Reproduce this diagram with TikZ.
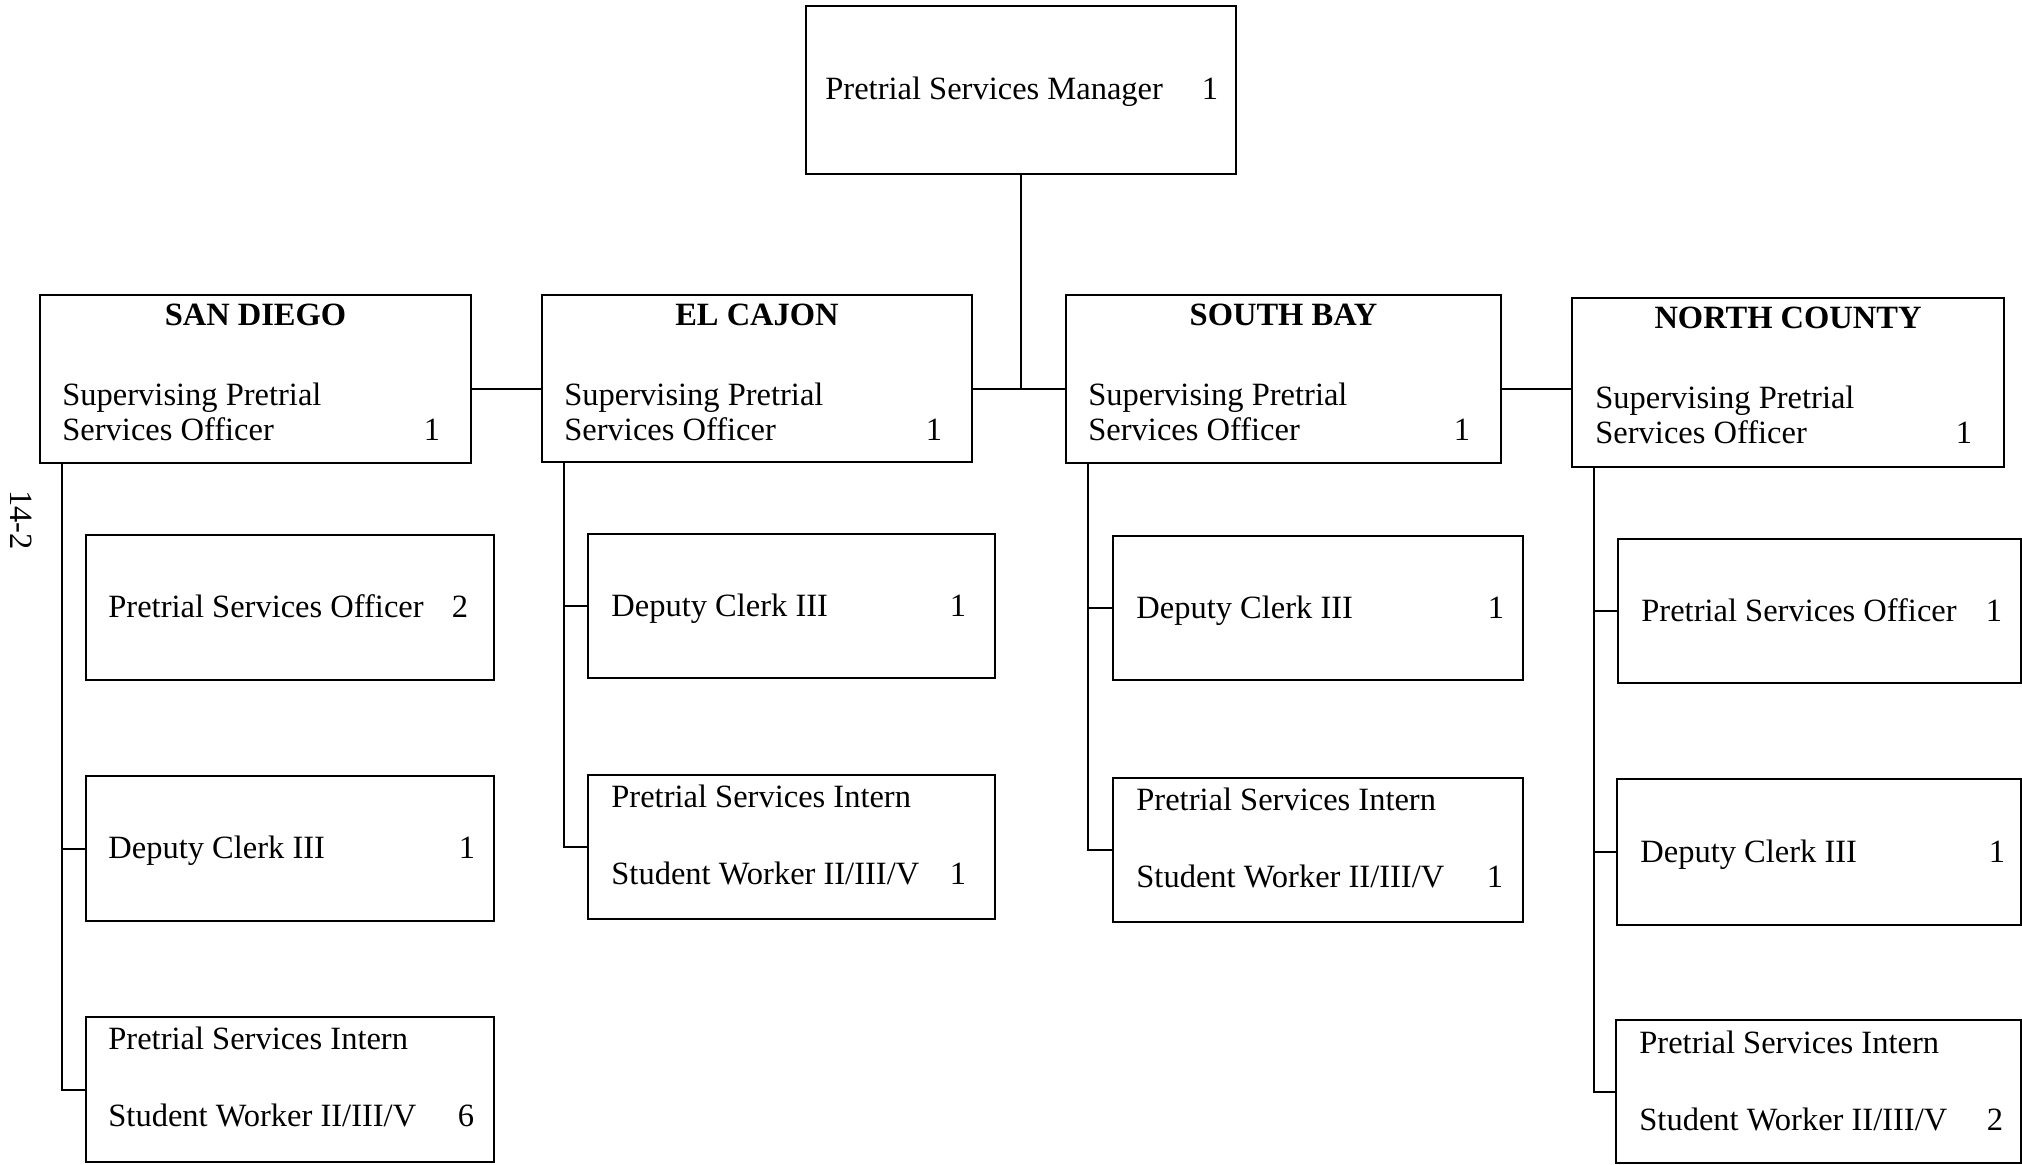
\documentclass[tikz,border=0pt]{standalone}
\usepackage{fontspec}
\setmainfont{Liberation Serif}
\usetikzlibrary{fit,calc}
\begin{document}
\begin{tikzpicture}[x=0.5pt,y=-0.5pt,
  box/.style={draw, line width=1.3pt, inner sep=0pt},
  lbl/.style={inner sep=0pt, anchor=base west, font=\fontsize{16.25}{19}\selectfont},
  num/.style={inner sep=0pt, anchor=base, font=\fontsize{16.25}{19}\selectfont},
  head/.style={inner sep=0pt, anchor=base, font=\fontsize{16.25}{19}\selectfont\bfseries},
  link/.style={line width=1pt}]
\useasboundingbox (0,0) rectangle (2022,1165);

% ---- top: manager ----
\node[box, fit={(806,6) (1236,174)}] (mgr) {};
\node[lbl] (mgr-t) at (825,100) {Pretrial Services Manager};
\node[num] (mgr-n) at (1210,100) {1};

% ---- second row: the four offices ----
\node[box, fit={(40,295) (471,463)}] (sd) {};
\node[box, fit={(542,295) (972,462)}] (ec) {};
\node[box, fit={(1066,295) (1501,463)}] (sb) {};
\node[box, fit={(1572,298) (2004,467)}] (nc) {};

\node[head] (sd-h) at (255.5,326) {SAN DIEGO};
\node[head] (ec-h) at (757,326) {EL CAJON};
\node[head] (sb-h) at (1283.5,326) {SOUTH BAY};
\node[head] (nc-h) at (1788,329) {NORTH COUNTY};

\node[lbl] (sd-a) at (62,406) {Supervising Pretrial};
\node[lbl] (sd-b) at (62,441) {Services Officer};
\node[num] (sd-n) at (432,441) {1};
\node[lbl] (ec-a) at (564,406) {Supervising Pretrial};
\node[lbl] (ec-b) at (564,441) {Services Officer};
\node[num] (ec-n) at (934,441) {1};
\node[lbl] (sb-a) at (1088,406) {Supervising Pretrial};
\node[lbl] (sb-b) at (1088,441) {Services Officer};
\node[num] (sb-n) at (1462,441) {1};
\node[lbl] (nc-a) at (1595,409) {Supervising Pretrial};
\node[lbl] (nc-b) at (1595,444) {Services Officer};
\node[num] (nc-n) at (1964,444) {1};

% ---- third row: staff under each office ----
% San Diego
\node[box, fit={(86,535) (494,680)}] (sd1) {};
\node[box, fit={(86,776) (494,921)}] (sd2) {};
\node[box, fit={(86,1017) (494,1162)}] (sd3) {};
\node[lbl] (sd1-t) at (108,617) {Pretrial Services Officer};
\node[num] (sd1-n) at (460,617) {2};
\node[lbl] (sd2-t) at (108,858) {Deputy Clerk III};
\node[num] (sd2-n) at (467,858) {1};
\node[lbl] (sd3-a) at (108,1049) {Pretrial Services Intern};
\node[lbl] (sd3-b) at (108,1126) {Student Worker II/III/V};
\node[num] (sd3-n) at (466,1126) {6};

% El Cajon
\node[box, fit={(588,534) (995,678)}] (ec1) {};
\node[box, fit={(588,775) (995,919)}] (ec2) {};
\node[lbl] (ec1-t) at (611,616) {Deputy Clerk III};
\node[num] (ec1-n) at (958,616) {1};
\node[lbl] (ec2-a) at (611,807) {Pretrial Services Intern};
\node[lbl] (ec2-b) at (611,884) {Student Worker II/III/V};
\node[num] (ec2-n) at (958,884) {1};

% South Bay
\node[box, fit={(1113,536) (1523,680)}] (sb1) {};
\node[box, fit={(1113,778) (1523,922)}] (sb2) {};
\node[lbl] (sb1-t) at (1136,618) {Deputy Clerk III};
\node[num] (sb1-n) at (1496,618) {1};
\node[lbl] (sb2-a) at (1136,810) {Pretrial Services Intern};
\node[lbl] (sb2-b) at (1136,887) {Student Worker II/III/V};
\node[num] (sb2-n) at (1495,887) {1};

% North County
\node[box, fit={(1618,539) (2021,683)}] (nc1) {};
\node[box, fit={(1617,779) (2021,925)}] (nc2) {};
\node[box, fit={(1616,1020) (2021,1163)}] (nc3) {};
\node[lbl] (nc1-t) at (1641,621) {Pretrial Services Officer};
\node[num] (nc1-n) at (1994,621) {1};
\node[lbl] (nc2-t) at (1640,862) {Deputy Clerk III};
\node[num] (nc2-n) at (1997,862) {1};
\node[lbl] (nc3-a) at (1639,1053) {Pretrial Services Intern};
\node[lbl] (nc3-b) at (1639,1130) {Student Worker II/III/V};
\node[num] (nc3-n) at (1995,1130) {2};

% page number, set sideways at the left margin
\node[inner sep=0pt, rotate=-90, font=\fontsize{16.25}{19}\selectfont] (pg) at (21,520) {14-2};

% ---- connectors ----
\coordinate (bus) at (1020,389);
\draw[link] (mgr.south) -- (mgr.south |- bus);
\draw[link] (sd.east |- bus) -- (ec.west |- bus);
\draw[link] (ec.east |- bus) -- (sb.west |- bus);
\draw[link] (sb.east |- bus) -- (nc.west |- bus);

\coordinate (sd-k) at ($(sd.south west)+(23,0)$);
\coordinate (ec-k) at ($(ec.south west)+(23,0)$);
\coordinate (sb-k) at ($(sb.south west)+(23,0)$);
\coordinate (nc-k) at ($(nc.south west)+(23,0)$);

\draw[link] (sd-k) |- (sd3.west);
\draw[link] (sd-k |- sd2.west) -- (sd2.west);

\draw[link] (ec-k) |- (ec2.west);
\draw[link] (ec-k |- ec1.west) -- (ec1.west);

\draw[link] (sb-k) |- (sb2.west);
\draw[link] (sb-k |- sb1.west) -- (sb1.west);

\draw[link] (nc-k) |- (nc3.west);
\draw[link] (nc-k |- nc1.west) -- (nc1.west);
\draw[link] (nc-k |- nc2.west) -- (nc2.west);
\end{tikzpicture}
\end{document}
